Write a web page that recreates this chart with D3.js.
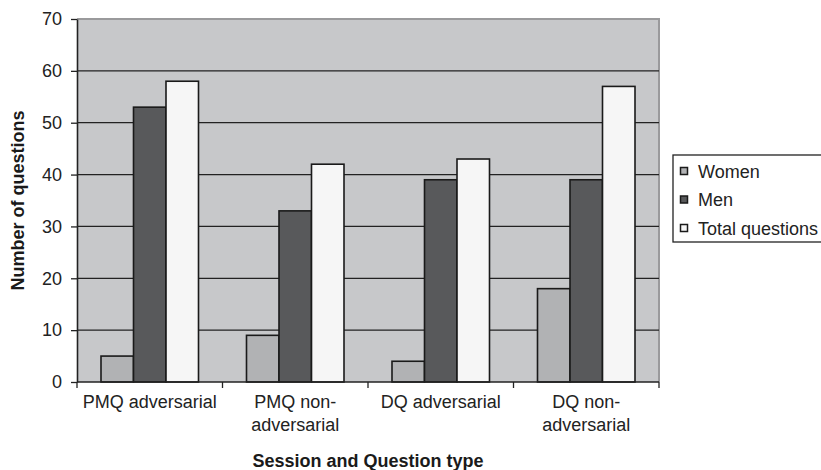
<!DOCTYPE html>
<html>
<head>
<meta charset="utf-8">
<script src="https://cdn.jsdelivr.net/npm/d3@7"></script>
<style>
  body { margin: 0; background: #fff; }
  svg { display: block; font-family: Arial, "Liberation Sans", sans-serif; }
</style>
</head>
<body>
<svg id="chart" width="821" height="470"></svg>
<script>
// Questions asked by session and question type
const categories = [["PMQ adversarial"], ["PMQ non-", "adversarial"], ["DQ adversarial"], ["DQ non-", "adversarial"]];
const seriesNames = ["Women", "Men", "Total questions"];
const women = [5, 9, 4, 18];
const men = [53, 33, 39, 39];
const total = [58, 42, 43, 57];
const yTicks = [0, 10, 20, 30, 40, 50, 60, 70];

const colors = ["#b1b2b4", "#58595b", "#f6f6f6"];
const seriesValues = [women, men, total];
const FONT = "Arial, 'Liberation Sans', sans-serif";

const svg = d3.select("#chart");
const margin = { left: 77, top: 19, right: 659, bottom: 382 };

const x = d3.scaleBand().domain(d3.range(categories.length)).range([margin.left, margin.right]).paddingInner(0).paddingOuter(0);
const bw = x.bandwidth();
const inner = d3.scaleBand().domain(d3.range(seriesNames.length)).range([24, bw - 24]);
const y = d3.scaleLinear().domain([0, 70]).range([margin.bottom, margin.top]);

// plot background
svg.append("rect")
  .attr("x", margin.left).attr("y", margin.top)
  .attr("width", margin.right - margin.left).attr("height", margin.bottom - margin.top)
  .attr("fill", "#c7c8ca");

// plot frame (top/right)
svg.append("path")
  .attr("d", `M${margin.left},${margin.top}H${margin.right}V${margin.bottom}`)
  .attr("fill", "none").attr("stroke", "#9a9a9c").attr("stroke-width", 2);

// gridlines
svg.append("g").selectAll("line").data(yTicks.filter(t => t > 0 && t < 70)).join("line")
  .attr("x1", margin.left).attr("x2", margin.right)
  .attr("y1", d => y(d)).attr("y2", d => y(d))
  .attr("stroke", "#222").attr("stroke-width", 1.3);

// bars
const groups = svg.append("g").selectAll("g").data(seriesValues).join("g")
  .attr("fill", (d, i) => colors[i]);
groups.each(function (vals, si) {
  d3.select(this).selectAll("rect").data(vals).join("rect")
    .attr("x", (v, ci) => x(ci) + inner(si))
    .attr("y", v => y(v))
    .attr("width", inner.bandwidth())
    .attr("height", v => y(0) - y(v))
    .attr("stroke", "#1a1a1a").attr("stroke-width", 1.6);
});

// y axis
const yAxis = svg.append("g").attr("transform", `translate(${margin.left},0)`)
  .call(d3.axisLeft(y).tickValues(yTicks).tickSize(6).tickPadding(9).tickSizeOuter(0));
yAxis.select(".domain").attr("stroke", "#222").attr("stroke-width", 1.6);
yAxis.selectAll(".tick line").attr("stroke", "#222").attr("stroke-width", 1.3);
yAxis.selectAll(".tick text").attr("font-size", 18).attr("fill", "#222").attr("font-family", FONT);

// x axis
const xEdges = d3.range(categories.length + 1).map(i => margin.left + i * bw);
svg.append("line").attr("x1", margin.left).attr("x2", margin.right)
  .attr("y1", y(0)).attr("y2", y(0)).attr("stroke", "#222").attr("stroke-width", 1.6);
svg.append("g").selectAll("line").data(xEdges).join("line")
  .attr("x1", d => d).attr("x2", d => d)
  .attr("y1", y(0)).attr("y2", y(0) + 6)
  .attr("stroke", "#222").attr("stroke-width", 1.3);

const xLabels = svg.append("g").selectAll("text").data(categories).join("text")
  .attr("x", (d, i) => x(i) + bw / 2)
  .attr("y", 408)
  .attr("text-anchor", "middle")
  .attr("font-size", 18).attr("fill", "#222");
xLabels.selectAll("tspan").data(d => d).join("tspan")
  .attr("x", function () { return d3.select(this.parentNode).attr("x"); })
  .attr("dy", (d, i) => i === 0 ? 0 : 23)
  .text(d => d);

// axis titles
svg.append("text")
  .attr("x", (margin.left + margin.right) / 2).attr("y", 467)
  .attr("text-anchor", "middle").attr("font-size", 18).attr("font-weight", "bold").attr("fill", "#1a1a1a")
  .text("Session and Question type");
svg.append("text")
  .attr("transform", `translate(24,${(margin.top + margin.bottom) / 2 + 0}) rotate(-90)`)
  .attr("text-anchor", "middle").attr("font-size", 18).attr("font-weight", "bold").attr("fill", "#1a1a1a")
  .text("Number of questions");

// legend
const legend = svg.append("g");
legend.append("rect")
  .attr("x", 673).attr("y", 155).attr("width", 170).attr("height", 87)
  .attr("fill", "#fff").attr("stroke", "#222").attr("stroke-width", 1.3);
const items = legend.selectAll("g").data(seriesNames).join("g")
  .attr("transform", (d, i) => `translate(680,${171 + i * 28.5})`);
items.append("rect")
  .attr("x", 0.5).attr("y", -3.5).attr("width", 7).attr("height", 7)
  .attr("fill", (d, i) => colors[i]).attr("stroke", "#1a1a1a").attr("stroke-width", 1.5);
items.append("text")
  .attr("x", 18).attr("y", 6.5)
  .attr("font-size", 18).attr("fill", "#222")
  .text(d => d);
</script>
</body>
</html>
